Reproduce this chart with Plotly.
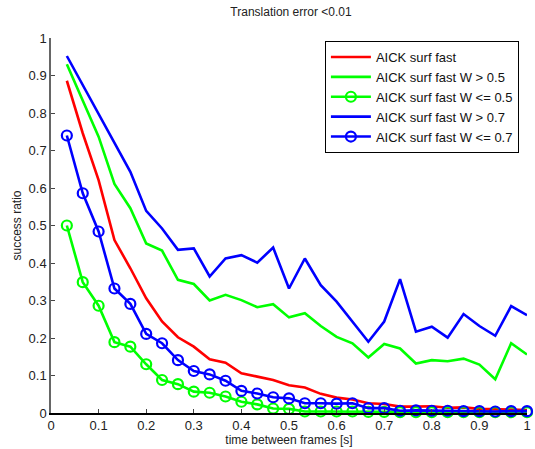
import plotly.graph_objects as go

x_vals = [round((i + 1) / 30, 4) for i in range(30)]

aick_fast = [0.886, 0.746, 0.621, 0.461, 0.386, 0.306, 0.244, 0.202, 0.177, 0.143,
             0.134, 0.106, 0.097, 0.088, 0.074, 0.068, 0.051, 0.041, 0.036, 0.026,
             0.024, 0.017, 0.017, 0.018, 0.014, 0.015, 0.011, 0.011, 0.009, 0.008]
w_gt_05 = [0.930, 0.835, 0.737, 0.611, 0.546, 0.452, 0.433, 0.355, 0.344, 0.300,
           0.315, 0.301, 0.282, 0.290, 0.255, 0.266, 0.232, 0.203, 0.186, 0.148,
           0.184, 0.172, 0.132, 0.141, 0.138, 0.145, 0.129, 0.090, 0.186, 0.156]
w_le_05 = [0.500, 0.349, 0.286, 0.189, 0.177, 0.130, 0.088, 0.077, 0.057, 0.054,
           0.044, 0.030, 0.023, 0.012, 0.011, 0.004, 0.004, 0.004, 0.004, 0.003,
           0.003, 0.002, 0.002, 0.002, 0.002, 0.002, 0.002, 0.002, 0.002, 0.002]
w_gt_07 = [0.952, 0.875, 0.800, 0.720, 0.643, 0.539, 0.492, 0.435, 0.439, 0.364,
           0.412, 0.421, 0.401, 0.441, 0.332, 0.412, 0.341, 0.297, 0.244, 0.190,
           0.244, 0.357, 0.217, 0.230, 0.201, 0.264, 0.232, 0.206, 0.285, 0.261]
w_le_07 = [0.740, 0.586, 0.484, 0.332, 0.291, 0.211, 0.186, 0.141, 0.112, 0.103,
           0.086, 0.059, 0.052, 0.042, 0.039, 0.026, 0.026, 0.025, 0.026, 0.013,
           0.013, 0.006, 0.007, 0.006, 0.006, 0.005, 0.005, 0.004, 0.005, 0.005]

tick_vals = [i / 10 for i in range(11)]
tick_text = ["0", "0.1", "0.2", "0.3", "0.4", "0.5", "0.6", "0.7", "0.8", "0.9", "1"]

series = [
    ("AICK surf fast", aick_fast, "#ff0000", False),
    ("AICK surf fast W > 0.5", w_gt_05, "#00ff00", False),
    ("AICK surf fast W <= 0.5", w_le_05, "#00ff00", True),
    ("AICK surf fast W > 0.7", w_gt_07, "#0000ff", False),
    ("AICK surf fast W <= 0.7", w_le_07, "#0000ff", True),
]

fig = go.Figure()
for name, vals, color, mark in series:
    fig.add_trace(go.Scatter(
        x=x_vals, y=vals, name=name,
        mode="lines+markers" if mark else "lines",
        line=dict(color=color, width=2.6),
        marker=dict(symbol="circle-open", size=10, color=color, line=dict(width=2.2, color=color)),
        cliponaxis=False,
    ))

W, H = 535, 449
font = "Liberation Sans, Arial, Helvetica, sans-serif"
fig.update_layout(
    width=W, height=H,
    margin=dict(l=51, r=4, t=38, b=36),
    paper_bgcolor="white", plot_bgcolor="white",
    font=dict(family=font, size=12, color="#222222"),
    title=dict(text="Translation error <0.01", x=291 / W, xanchor="center",
               y=1 - 12 / H, yanchor="middle",
               font=dict(size=12, color="#222222")),
    showlegend=True,
    legend=dict(x=0.983, y=0.992, xanchor="right", yanchor="top",
                bgcolor="white", bordercolor="black", borderwidth=1,
                font=dict(size=13, color="#111111"), tracegroupgap=0,
                itemwidth=40),
    xaxis=dict(range=[0, 1], tickvals=tick_vals, ticktext=tick_text,
               showgrid=False, zeroline=False, showline=True, linecolor="black", linewidth=1.5,
               ticks="inside", ticklen=4, tickcolor="#444444", mirror=False,
               tickfont=dict(size=13),
               title=dict(text="time between frames [s]", standoff=2, font=dict(size=12))),
    yaxis=dict(range=[0, 1], tickvals=tick_vals, ticktext=tick_text,
               showgrid=False, zeroline=False, showline=True, linecolor="#666666", linewidth=1.5,
               ticks="inside", ticklen=4, tickcolor="#444444", mirror=False,
               tickfont=dict(size=13),
               title=dict(text="success ratio", standoff=4, font=dict(size=12))),
)

fig.write_html("out.html", config={"displayModeBar": False},
               post_script="document.body.style.margin='0';")
